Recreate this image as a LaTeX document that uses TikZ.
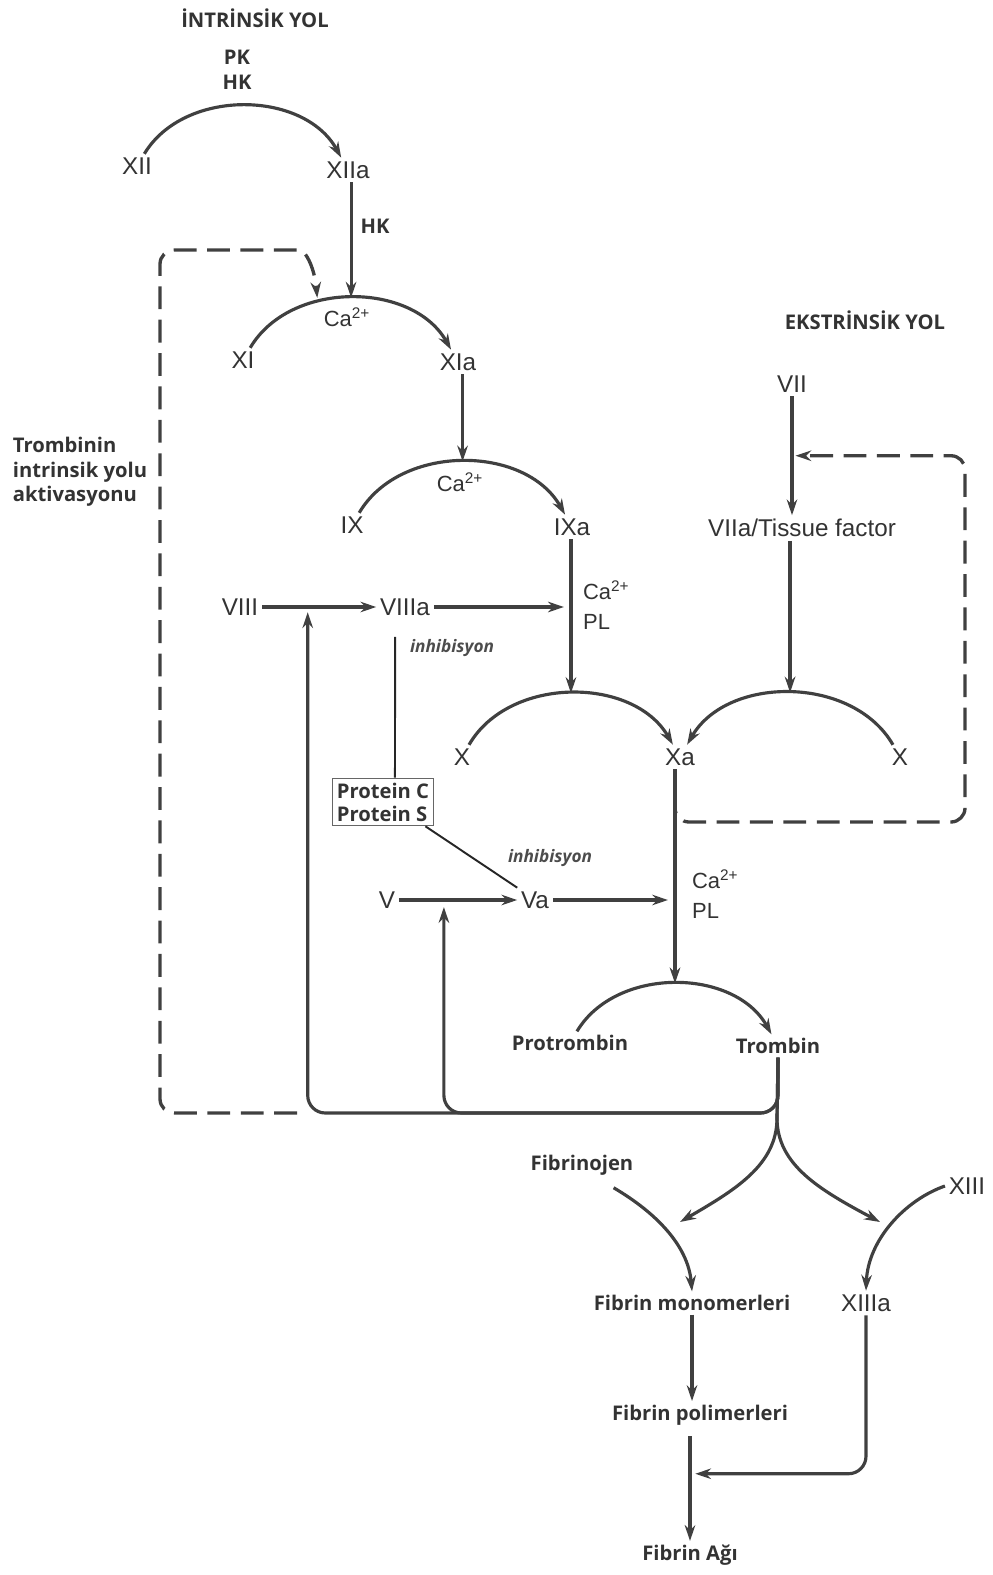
\documentclass[tikz,border=0pt]{standalone}
\usepackage{fontspec}
\setmainfont{Liberation Sans}
\newfontfamily\lblfont{Open Sans}
\usetikzlibrary{arrows.meta}

\begin{document}
\begin{tikzpicture}[
    x=0.02cm, y=-0.02cm,
    factorNode/.style={font=\fontsize{13.8}{16}\selectfont, text=black!80, inner sep=2pt},
    boldNode/.style={font=\lblfont\bfseries\fontsize{11.5}{14}\selectfont, text=black!80, inner sep=2pt, align=center},
    ionNode/.style={font=\fontsize{12.5}{17}\selectfont, text=black!80, inner sep=1pt},
    inhibNode/.style={font=\lblfont\bfseries\itshape\fontsize{9.8}{11}\selectfont, text=black!70},
    proteinBox/.style={draw=black!60, line width=0.8pt, font=\lblfont\bfseries\fontsize{11.5}{13}\selectfont, text=black!80, align=left, inner sep=2.5pt},
    flowArrow/.style={-{Stealth[length=9pt,width=6pt]}, line width=1.8pt, draw=black!75},
    arcRel/.style={flowArrow},
    feedbackRel/.style={-{Stealth[length=9pt,width=6pt]}, line width=1.9pt, draw=black!75, dash pattern=on 13pt off 6pt, rounded corners=8pt},
    inhibLine/.style={line width=1.1pt, draw=black!85}
]
    \useasboundingbox (0,0) rectangle (992,1575);

    % Intrinsic path
    \node[boldNode] (intrTitle) at (255,18) {İNTRİNSİK YOL};
    \node[boldNode] (pkhk) at (237,70) {PK\\HK};
    \node[factorNode] (xii)  at (137,166) {XII};
    \node[factorNode] (xiia) at (348,170) {XIIa};
    \node[boldNode]   (hk)   at (375,226) {HK};
    \node[factorNode] (xi)   at (243,360) {XI};
    \node[factorNode] (xia)  at (458,362) {XIa};
    \node[factorNode] (ix)   at (352,525) {IX};
    \node[factorNode] (ixa)  at (572,527) {IXa};
    \node[factorNode] (viii) at (240,607) {VIII};
    \node[factorNode] (viiia) at (405,607) {VIIIa};
    \node[factorNode] (xl)   at (462,757) {X};
    \node[factorNode] (xa)   at (680,757) {Xa};
    \node[factorNode] (xr)   at (900,757) {X};
    \node[proteinBox] (protein) at (383,802) {Protein C\\Protein S};
    \node[factorNode] (v)    at (387,900) {V};
    \node[factorNode] (va)   at (535,900) {Va};
    \node[boldNode] (protrombin) at (570,1043) {Protrombin};
    \node[boldNode] (trombin)    at (778,1046) {Trombin};
    \node[boldNode, align=left, anchor=west] (trText) at (9,472) {Trombinin\\intrinsik yolu\\aktivasyonu};

    % Extrinsic path
    \node[boldNode]   (extrTitle) at (865,320) {EKSTRİNSİK YOL};
    \node[factorNode] (vii)  at (792,384) {VII};
    \node[factorNode] (viia) at (802,528) {VIIa/Tissue factor};

    % Fibrin
    \node[boldNode]   (fibrinojen) at (582,1165) {Fibrinojen};
    \node[factorNode] (xiii)  at (967,1186) {XIII};
    \node[boldNode]   (monomer) at (692,1303) {Fibrin monomerleri};
    \node[factorNode] (xiiia) at (866,1303) {XIIIa};
    \node[boldNode]   (polimer) at (700,1415) {Fibrin polimerleri};
    \node[boldNode]   (fibrinAg) at (690,1555) {Fibrin Ağı};

    % Cofactor labels
    \node[ionNode] (ca11) at (347,317) {Ca\textsuperscript{2+}};
    \node[ionNode] (ca9)  at (460,482) {Ca\textsuperscript{2+}};
    \node[ionNode, anchor=west, align=left] (capl1) at (581,605) {Ca\textsuperscript{2+}\\PL};
    \node[ionNode, anchor=west, align=left] (capl2) at (690,894) {Ca\textsuperscript{2+}\\PL};
    \node[inhibNode] (inh1) at (452,648) {inhibisyon};
    \node[inhibNode] (inh2) at (550,858) {inhibisyon};

    % Activation arcs
    \draw[arcRel] (xii) to[bend left=60] (xiia);
    \draw[arcRel] (xi) to[bend left=60] coordinate[pos=0.5] (pk11) coordinate[pos=0.36] (fb11) (xia);
    \draw[arcRel] (ix) to[bend left=60] coordinate[pos=0.5] (pk9) (ixa);
    \draw[arcRel] (xl) to[bend left=60] coordinate[pos=0.5] (pkXl) (xa);
    \draw[arcRel] (xr) to[bend right=60] coordinate[pos=0.5] (pkXr) (xa);
    \draw[arcRel] (protrombin) to[bend left=60] coordinate[pos=0.5] (pkTr) (trombin);

    % Cascade
    \draw[flowArrow] (pk11 |- xiia.south) -- (pk11);
    \draw[flowArrow] (pk9 |- xia.south) -- (pk9);
    \draw[flowArrow] (pkXl |- ixa.south) -- coordinate[pos=0.45] (ixaMid) (pkXl);
    \draw[flowArrow] (vii) -- coordinate[pos=0.5] (viiTap) (vii |- viia.north);
    \draw[flowArrow] (pkXr |- viia.south) -- (pkXr);
    \draw[flowArrow] (pkTr |- xa.south) -- coordinate[pos=0.1] (xaTap) coordinate[pos=0.6] (xaMid) (pkTr);

    \draw[flowArrow] (viii) -- coordinate[pos=0.4] (viiiIn) (viiia);
    \draw[flowArrow, shorten >=4pt] (viiia) -- (viiia -| ixaMid);
    \draw[flowArrow] (v) -- coordinate[pos=0.38] (vIn) (va);
    \draw[flowArrow, shorten >=4pt] (va) -- (va -| xaMid);

    % Inhibition
    \draw[inhibLine, shorten <=10pt] ([xshift=-5.6pt]viiia.south) -- ([xshift=6.8pt]protein.north);
    \draw[inhibLine] ([xshift=-5pt]protein.south east) -- (va.north west);

    % Thrombin feedback
    \coordinate (fbLine) at (0,1113);
    \coordinate (fbEnd) at (297,1113);
    \draw[flowArrow, rounded corners=10pt, shorten >=3pt] (trombin.south) |- (viiiIn |- fbLine) -- (viiiIn);
    \draw[flowArrow, rounded corners=10pt, shorten >=4pt] (trombin.south) |- (vIn |- fbLine) -- (vIn);
    \draw[feedbackRel, shorten >=2pt] (fbEnd) -| (160,250) -- (286,250) .. controls (304,250) and (314,264) .. (fb11);
    \draw[feedbackRel, shorten >=2pt] (xaTap) |- (965,822) |- (viiTap);

    % Fibrin formation
    \coordinate (split) at (777,1118);
    \coordinate (monoIn) at (680,1222);
    \coordinate (xiiiIn) at (880,1222);
    \draw[flowArrow] (trombin.south) -- (split) .. controls (777,1165) and (735,1190) .. (monoIn);
    \draw[flowArrow] (trombin.south) -- (split) .. controls (777,1165) and (820,1190) .. (xiiiIn);
    \draw[flowArrow] ([xshift=18pt,yshift=-5pt]fibrinojen.south) .. controls (655,1212) and (688,1245) .. (monomer.north);
    \draw[flowArrow] (xiii.west) .. controls (905,1200) and (868,1240) .. (xiiia.north);
    \draw[flowArrow] (monomer.south) -- (monomer.south |- polimer.north);
    \draw[flowArrow, shorten <=4pt] (fibrinAg.north |- polimer.south) -- coordinate[pos=0.4] (agJoin) (fibrinAg.north);
    \draw[flowArrow, rounded corners=10pt, shorten >=3pt] (xiiia.south) |- (agJoin);
\end{tikzpicture}
\end{document}
